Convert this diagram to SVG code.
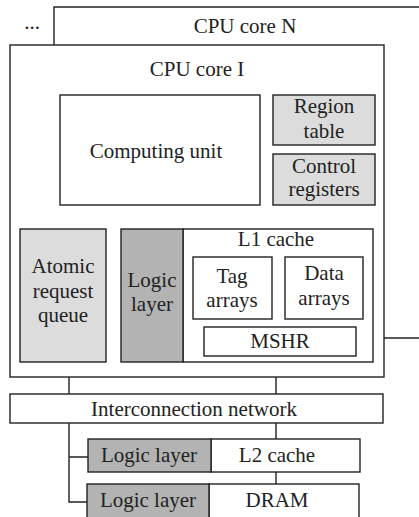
<svg xmlns="http://www.w3.org/2000/svg" width="419" height="517" viewBox="0 0 419 517">
<style>
.b{fill:#fff;stroke:#222;stroke-width:1.4}
.g1{fill:#dcdcdc;stroke:#222;stroke-width:1.4}
.g2{fill:#b3b3b3;stroke:#222;stroke-width:1.4}
.w{fill:none;stroke:#222;stroke-width:1.4}
text{font-family:"Liberation Serif","Times New Roman",serif;font-size:21px;fill:#222;text-anchor:middle}
</style>
<rect width="419" height="517" fill="#fff"/>
<g id="core-n">
<path class="w" d="M54 45 V7 H420"/>
<text x="245" y="33">CPU core N</text>
<text x="32" y="29">...</text>
</g>
<g id="connectors">
<path class="w" d="M70 205 V229 M229 205 V229 M106 296 H121 M384 338 H420 M69 362 V394 M276 362 V394 M69 423 V502 H87 M69 457 H88 M276 423 V439 M276 472 V484"/>
</g>
<g id="core-i">
<rect class="b" x="10" y="45" width="374" height="332" fill="none"/>
<text x="197" y="76">CPU core I</text>
</g>
<g id="computing-unit">
<rect class="b" x="60" y="95" width="200" height="110"/>
<text x="156" y="158">Computing unit</text>
</g>
<g id="region-table">
<rect class="g1" x="273" y="95" width="102" height="50"/>
<text x="324" y="113">Region</text>
<text x="324" y="138">table</text>
</g>
<g id="control-registers">
<rect class="g1" x="273" y="154" width="102" height="51"/>
<text x="324" y="173">Control</text>
<text x="324" y="196">registers</text>
</g>
<g id="atomic-queue">
<rect class="g1" x="20" y="229" width="86" height="133"/>
<text x="63" y="273">Atomic</text>
<text x="63" y="298">request</text>
<text x="63" y="322">queue</text>
</g>
<g id="l1-cache">
<rect class="b" x="183" y="229" width="190" height="133"/>
<text x="276" y="246">L1 cache</text>
</g>
<g id="logic-layer-l1">
<rect class="g2" x="121" y="229" width="62" height="133"/>
<text x="152" y="287">Logic</text>
<text x="152" y="311">layer</text>
</g>
<g id="tag-arrays">
<rect class="b" x="193" y="257" width="79" height="62"/>
<text x="232" y="283">Tag</text>
<text x="232" y="307">arrays</text>
</g>
<g id="data-arrays">
<rect class="b" x="285" y="257" width="78" height="62"/>
<text x="324" y="280">Data</text>
<text x="324" y="305">arrays</text>
</g>
<g id="mshr">
<rect class="b" x="204" y="327" width="152" height="29"/>
<text x="280" y="348">MSHR</text>
</g>
<g id="interconnect">
<rect class="b" x="10" y="394" width="373" height="29"/>
<text x="194" y="416">Interconnection network</text>
</g>
<g id="l2-cache">
<rect class="b" x="211" y="439" width="149" height="33"/>
<text x="277" y="462">L2 cache</text>
</g>
<g id="logic-layer-l2">
<rect class="g2" x="88" y="439" width="123" height="33"/>
<text x="149" y="462">Logic layer</text>
</g>
<g id="dram">
<rect class="b" x="209" y="484" width="150" height="40"/>
<text x="277" y="507">DRAM</text>
</g>
<g id="logic-layer-dram">
<rect class="g2" x="87" y="484" width="122" height="40"/>
<text x="148" y="507">Logic layer</text>
</g>
</svg>
